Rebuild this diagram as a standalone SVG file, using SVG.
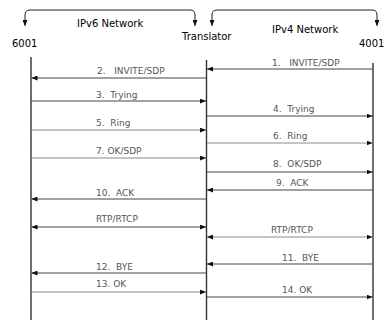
<svg xmlns="http://www.w3.org/2000/svg" width="387" height="320" viewBox="0 0 387 320">
<style>
.t{font-family:"DejaVu Sans",Verdana,sans-serif;font-size:10px;fill:#000}
.l{font-family:"DejaVu Sans",Verdana,sans-serif;font-size:9px;fill:#555;white-space:pre}
.v{stroke:#333;stroke-width:1.4;fill:none}
.d{stroke:#444;stroke-width:1;fill:none;marker-end:url(#ah)}
.g{stroke:#8a8a8a;stroke-width:1;fill:none;marker-end:url(#ah)}
.b{stroke:#222;stroke-width:1;fill:none;marker-end:url(#ah);marker-start:url(#ah)}
</style>
<defs>
<marker id="ah" markerUnits="userSpaceOnUse" markerWidth="6" markerHeight="5" refX="6" refY="2.5" orient="auto-start-reverse">
<path d="M0,0 L6,2.5 L0,5 z" fill="#111"/>
</marker>
</defs>
<rect width="387" height="320" fill="#fff"/>
<g id="braces">
<path class="b" d="M25,26 L25,15 Q25,10 30,10 L190,10 Q195,10 195,15 L195,26"/>
<path class="b" d="M212,26 L212,15 Q212,10 217,10 L372,10 Q377,10 377,15 L377,26"/>
</g>
<g id="n6001"><text class="t" x="12" y="47">6001</text><line class="v" x1="31" y1="57" x2="31" y2="320"/></g>
<g id="translator"><text class="t" x="182" y="40">Translator</text><line class="v" x1="206.5" y1="60" x2="206.5" y2="320"/></g>
<g id="n4001"><text class="t" x="359" y="47">4001</text><line class="v" x1="373" y1="63" x2="373" y2="320"/></g>
<g id="ipv6"><text class="t" x="77" y="27">IPv6 Network</text></g>
<g id="ipv4"><text class="t" x="272" y="33">IPv4 Network</text></g>
<g id="connectors">
<line class="d" x1="373" y1="69" x2="207" y2="69"/>
<line class="d" x1="206" y1="78" x2="31.5" y2="78"/>
<line class="d" x1="31" y1="101" x2="206" y2="101"/>
<line class="d" x1="207" y1="116" x2="372.5" y2="116"/>
<line class="g" x1="31" y1="130" x2="206" y2="130"/>
<line class="g" x1="207" y1="143" x2="372.5" y2="143"/>
<line class="g" x1="31" y1="158" x2="206" y2="158"/>
<line class="d" x1="207" y1="172" x2="372.5" y2="172"/>
<line class="d" x1="373" y1="190" x2="207" y2="190"/>
<line class="d" x1="206" y1="199" x2="31.5" y2="199"/>
<line class="d" x1="31.5" y1="227" x2="206" y2="227" style="marker-start:url(#ah)"/>
<line class="g" x1="207" y1="237" x2="372.5" y2="237" style="marker-start:url(#ah)"/>
<line class="d" x1="373" y1="264" x2="207" y2="264"/>
<line class="d" x1="206" y1="273" x2="31.5" y2="273"/>
<line class="g" x1="31" y1="292" x2="206" y2="292"/>
<line class="d" x1="207" y1="297" x2="372.5" y2="297"/>
</g>
<g id="labels">
<text class="l" x="272" y="66">1.   INVITE/SDP</text>
<text class="l" x="97" y="74">2.   INVITE/SDP</text>
<text class="l" x="96" y="98">3.  Trying</text>
<text class="l" x="273" y="112">4.  Trying</text>
<text class="l" x="96" y="126">5.  Ring</text>
<text class="l" x="273" y="139">6.  Ring</text>
<text class="l" x="96" y="154">7. OK/SDP</text>
<text class="l" x="273" y="167">8.  OK/SDP</text>
<text class="l" x="276" y="186">9.  ACK</text>
<text class="l" x="96" y="196">10.  ACK</text>
<text class="l" x="96" y="222">RTP/RTCP</text>
<text class="l" x="271" y="233">RTP/RTCP</text>
<text class="l" x="282" y="261">11.  BYE</text>
<text class="l" x="96" y="270">12.  BYE</text>
<text class="l" x="96" y="287">13. OK</text>
<text class="l" x="282" y="293">14. OK</text>
</g>
</svg>
